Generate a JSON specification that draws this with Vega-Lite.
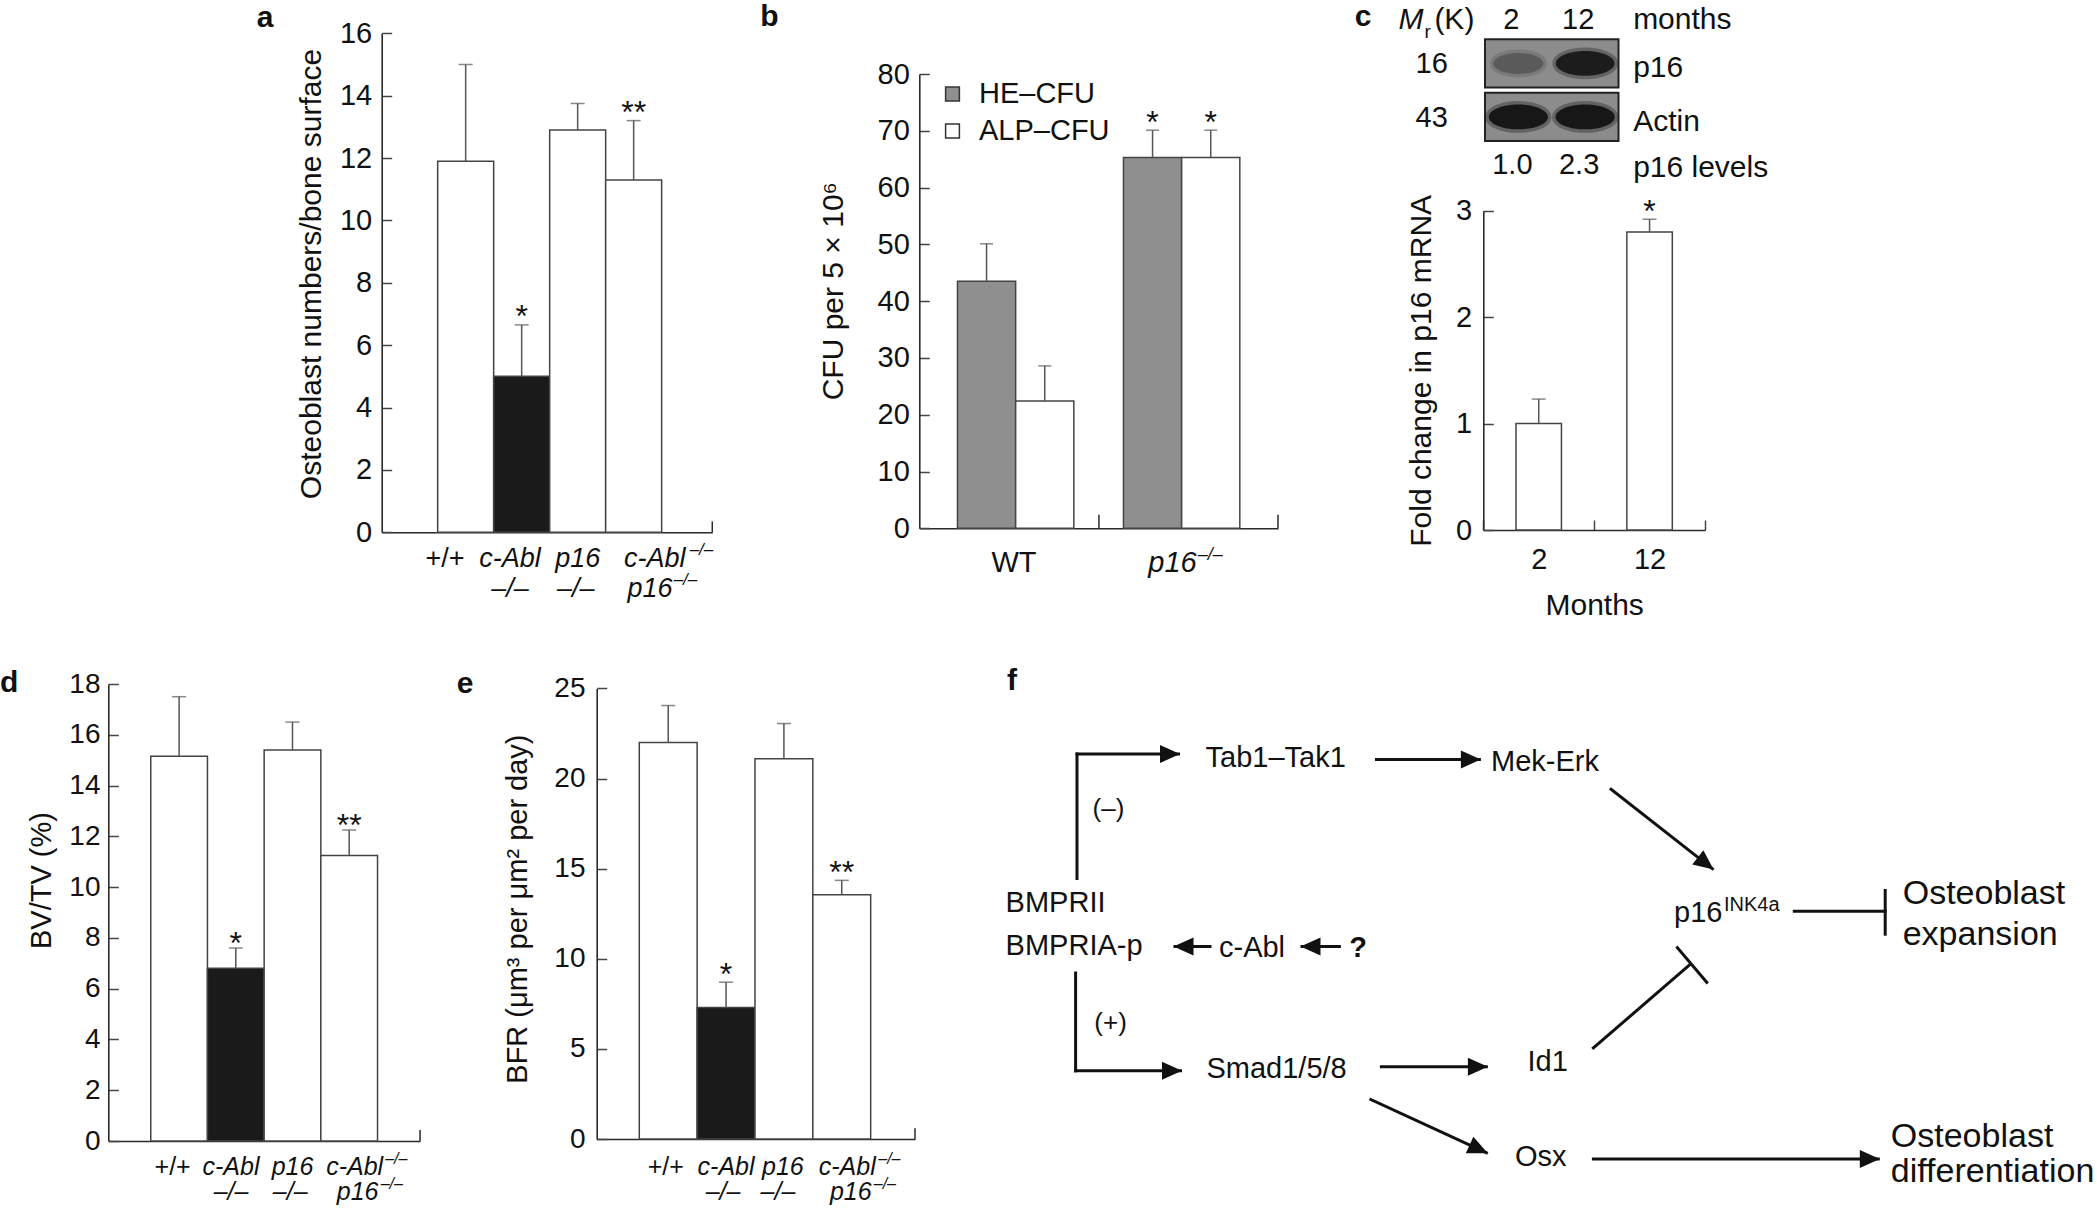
{
"$schema": "https://vega.github.io/schema/vega-lite/v6.json",
"width": 2097,
"height": 1211,
"autosize": {"type": "none"},
"padding": 0,
"background": "#ffffff",
"config": {
  "view": {"stroke": null},
  "font": "Liberation Sans",
  "axis": {"domainColor": "#2a2a2a", "domainWidth": 1.6, "tickColor": "#444444", "tickWidth": 1.5, "labelFont": "Liberation Sans", "labelColor": "#111111", "labelFontSize": 29, "titleFont": "Liberation Sans", "titleFontSize": 30, "titleFontWeight": "normal", "titleColor": "#111111", "grid": false, "labelFlush": false, "labelOverlap": false},
  "text": {"font": "Liberation Sans", "color": "#111111"}
},
"datasets": {
  "a": [{"g":"wt","v":11.9,"e":15.0,"s":""},{"g":"abl","v":5.0,"e":6.65,"s":"*"},{"g":"p16","v":12.9,"e":13.75,"s":""},{"g":"dko","v":11.3,"e":13.2,"s":"**"}],
  "b": [{"grp":"WT","ser":"HE–CFU","v":43.5,"e":50.1,"s":""},{"grp":"WT","ser":"ALP–CFU","v":22.4,"e":28.6,"s":""},{"grp":"p16","ser":"HE–CFU","v":65.3,"e":70.1,"s":"*"},{"grp":"p16","ser":"ALP–CFU","v":65.3,"e":70.1,"s":"*"}],
  "c": [{"m":"2","v":1.0,"e":1.23,"s":""},{"m":"12","v":2.8,"e":2.92,"s":"*"}],
  "blot": [{"row":"p16","lane":"2","level":1.0,"mr":"16"},{"row":"p16","lane":"12","level":2.3,"mr":"16"},{"row":"Actin","lane":"2","level":2.4,"mr":"43"},{"row":"Actin","lane":"12","level":2.4,"mr":"43"}],
  "d": [{"g":"wt","v":15.15,"e":17.5,"s":""},{"g":"abl","v":6.8,"e":7.6,"s":"*"},{"g":"p16","v":15.4,"e":16.5,"s":""},{"g":"dko","v":11.25,"e":12.25,"s":"**"}],
  "e": [{"g":"wt","v":22.0,"e":24.05,"s":""},{"g":"abl","v":7.3,"e":8.7,"s":"*"},{"g":"p16","v":21.1,"e":23.05,"s":""},{"g":"dko","v":13.55,"e":14.35,"s":"**"}],
  "segs": [
    {"x1":7.7,"y1":23.85,"x2":7.7,"y2":11.4,"h":"none"},
    {"x1":7.7,"y1":11.4,"x2":17.85,"y2":11.4,"h":"arrow"},
    {"x1":37.65,"y1":11.94,"x2":47.94,"y2":11.94,"h":"arrow"},
    {"x1":61.1,"y1":14.93,"x2":71.24,"y2":22.87,"h":"arrow"},
    {"x1":21.0,"y1":30.66,"x2":17.5,"y2":30.66,"h":"arrow"},
    {"x1":33.94,"y1":30.66,"x2":30.2,"y2":30.66,"h":"arrow"},
    {"x1":7.56,"y1":33.3,"x2":7.56,"y2":43.08,"h":"none"},
    {"x1":7.56,"y1":43.08,"x2":18.05,"y2":43.08,"h":"arrow"},
    {"x1":38.14,"y1":42.68,"x2":48.64,"y2":42.68,"h":"arrow"},
    {"x1":37.09,"y1":45.96,"x2":48.64,"y2":51.27,"h":"arrow"},
    {"x1":59.34,"y1":51.9,"x2":87.83,"y2":51.9,"h":"arrow"},
    {"x1":59.34,"y1":40.79,"x2":68.93,"y2":32.52,"h":"none"},
    {"x1":67.74,"y1":30.77,"x2":70.68,"y2":34.23,"h":"none"},
    {"x1":79.43,"y1":27.13,"x2":88.52,"y2":27.13,"h":"none"},
    {"x1":88.52,"y1":25.05,"x2":88.52,"y2":29.42,"h":"none"}
  ],
  "nodes": [
    {"t":"Tab1–Tak1","x":27.57,"y":11.84,"k":"n"},
    {"t":"Mek-Erk","x":54.5,"y":12.2,"k":"n"},
    {"t":"c-Abl","x":25.2,"y":30.8,"k":"n"},
    {"t":"Smad1/5/8","x":27.66,"y":42.9,"k":"n"},
    {"t":"Id1","x":54.76,"y":42.24,"k":"n"},
    {"t":"Osx","x":54.07,"y":51.7,"k":"n"},
    {"t":"BMPRII","x":0.56,"y":26.3,"k":"nl"},
    {"t":"BMPRIA-p","x":0.56,"y":30.6,"k":"nl"},
    {"t":"p16","x":67.4,"y":27.3,"k":"nl"},
    {"t":"INK4a","x":72.4,"y":26.5,"k":"sup"},
    {"t":"Osteoblast","x":90.27,"y":25.38,"k":"big"},
    {"t":"expansion","x":90.27,"y":29.5,"k":"big"},
    {"t":"Osteoblast","x":89.08,"y":49.7,"k":"big"},
    {"t":"differentiation","x":89.08,"y":53.24,"k":"big"},
    {"t":"(–)","x":10.85,"y":16.93,"k":"sign"},
    {"t":"(+)","x":11.06,"y":38.3,"k":"sign"},
    {"t":"?","x":35.8,"y":30.8,"k":"q"},
    {"t":"f","x":1.2,"y":4.1,"k":"label"}
  ]
},
"resolve": {"scale": {"x": "independent", "y": "independent"}, "axis": {"x": "independent", "y": "independent"}},
"layer": [
{
  "data": {"name": "a"},
  "layer": [
    {"mark": {"type": "bar", "stroke": "#444444", "strokeWidth": 1.5},
     "encoding": {
       "x": {"field": "g", "type": "nominal", "scale": {"domain": ["wt","abl","p16","dko"], "range": [381.7, 712.3], "paddingInner": 0, "paddingOuter": 0.952, "align": 0.525}, "axis": {"orient": "bottom", "offset": -678.7, "labels": false, "ticks": false, "title": null}},
       "y": {"field": "v", "type": "quantitative", "scale": {"domain": [0, 16], "range": [532.3, 33.3], "nice": false, "zero": false}, "axis": {"orient": "left", "offset": -381.7, "values": [0,2,4,6,8,10,12,14,16], "format": "d", "tickSize": -10, "labelPadding": 20, "title": "Osteoblast numbers/bone surface", "titlePadding": 13, "titleY": 273.5}},
       "fill": {"condition": {"test": "datum.g === 'abl'", "value": "#1a1a1a"}, "value": "#ffffff"}
     }},
    {"mark": {"type": "rule", "color": "#555555", "strokeWidth": 1.5},
     "encoding": {"x": {"field": "g", "type": "nominal"}, "y": {"field": "v", "type": "quantitative"}, "y2": {"field": "e"}}},
    {"mark": {"type": "tick", "color": "#555555", "size": 14, "thickness": 1.5},
     "encoding": {"x": {"field": "g", "type": "nominal"}, "y": {"field": "e", "type": "quantitative"}}},
    {"transform": [{"filter": "datum.s !== ''"}],
     "mark": {"type": "text", "fontSize": 32, "baseline": "alphabetic", "dy": 2.5},
     "encoding": {"x": {"field": "g", "type": "nominal"}, "y": {"field": "e", "type": "quantitative"}, "text": {"field": "s"}}},
    {"transform": [{"filter": "datum.g === 'dko'"}],
     "mark": {"type": "rule", "color": "#2a2a2a", "strokeWidth": 1.5},
     "encoding": {"x": {"field": "g", "type": "nominal", "bandPosition": 1.904}, "y": {"datum": 0}, "y2": {"datum": 0.35}}},
    {"transform": [{"filter": "datum.g === 'wt'"}],
     "mark": {"type": "text", "fontSize": 27, "baseline": "alphabetic", "dx": -20.7, "dy": 34.7},
     "encoding": {"x": {"field": "g", "type": "nominal"}, "y": {"datum": 0}, "text": {"value": "+/+"}}},
    {"transform": [{"filter": "datum.g === 'abl'"}],
     "mark": {"type": "text", "fontSize": 27, "fontStyle": "italic", "baseline": "alphabetic", "dx": -11.7, "dy": 34.7},
     "encoding": {"x": {"field": "g", "type": "nominal"}, "y": {"datum": 0}, "text": {"value": "c-Abl"}}},
    {"transform": [{"filter": "datum.g === 'abl'"}],
     "mark": {"type": "text", "fontSize": 27, "fontStyle": "italic", "baseline": "alphabetic", "dx": -11.7, "dy": 64.7},
     "encoding": {"x": {"field": "g", "type": "nominal"}, "y": {"datum": 0}, "text": {"value": "–/–"}}},
    {"transform": [{"filter": "datum.g === 'p16'"}],
     "mark": {"type": "text", "fontSize": 27, "fontStyle": "italic", "baseline": "alphabetic", "dx": 0, "dy": 34.7},
     "encoding": {"x": {"field": "g", "type": "nominal"}, "y": {"datum": 0}, "text": {"value": "p16"}}},
    {"transform": [{"filter": "datum.g === 'p16'"}],
     "mark": {"type": "text", "fontSize": 27, "fontStyle": "italic", "baseline": "alphabetic", "dx": -2, "dy": 64.7},
     "encoding": {"x": {"field": "g", "type": "nominal"}, "y": {"datum": 0}, "text": {"value": "–/–"}}},
    {"transform": [{"filter": "datum.g === 'dko'"}],
     "mark": {"type": "text", "fontSize": 27, "fontStyle": "italic", "baseline": "alphabetic", "dx": 21, "dy": 34.7},
     "encoding": {"x": {"field": "g", "type": "nominal"}, "y": {"datum": 0}, "text": {"value": "c-Abl"}}},
    {"transform": [{"filter": "datum.g === 'dko'"}],
     "mark": {"type": "text", "fontSize": 17, "fontStyle": "italic", "align": "left", "baseline": "alphabetic", "dx": 56, "dy": 22.7},
     "encoding": {"x": {"field": "g", "type": "nominal"}, "y": {"datum": 0}, "text": {"value": "–/–"}}},
    {"transform": [{"filter": "datum.g === 'dko'"}],
     "mark": {"type": "text", "fontSize": 27, "fontStyle": "italic", "baseline": "alphabetic", "dx": 16.3, "dy": 64.7},
     "encoding": {"x": {"field": "g", "type": "nominal"}, "y": {"datum": 0}, "text": {"value": "p16"}}},
    {"transform": [{"filter": "datum.g === 'dko'"}],
     "mark": {"type": "text", "fontSize": 17, "fontStyle": "italic", "align": "left", "baseline": "alphabetic", "dx": 40, "dy": 52.7},
     "encoding": {"x": {"field": "g", "type": "nominal"}, "y": {"datum": 0}, "text": {"value": "–/–"}}},
    {"transform": [{"filter": "datum.g === 'wt'"}],
     "mark": {"type": "text", "fontSize": 30, "fontWeight": "bold", "baseline": "middle", "dx": -200.7, "dy": -15.3},
     "encoding": {"x": {"field": "g", "type": "nominal"}, "y": {"datum": 16}, "text": {"value": "a"}}}
  ]
},
{
  "data": {"name": "b"},
  "layer": [
    {"mark": {"type": "bar", "stroke": "#444444", "strokeWidth": 1.5},
     "encoding": {
       "x": {"field": "grp", "type": "nominal", "scale": {"domain": ["WT","p16"], "range": [919.3, 1278], "paddingInner": 0.299, "paddingOuter": 0.23, "align": 0.5}, "axis": {"orient": "bottom", "offset": -682.7, "labels": false, "ticks": false, "title": null}},
       "xOffset": {"field": "ser", "type": "nominal", "scale": {"domain": ["HE–CFU","ALP–CFU"], "paddingInner": 0, "paddingOuter": 0}},
       "y": {"field": "v", "type": "quantitative", "scale": {"domain": [0, 80], "range": [528.3, 74], "nice": false, "zero": false}, "axis": {"orient": "left", "offset": -919.3, "values": [0,10,20,30,40,50,60,70,80], "format": "d", "tickSize": -10, "labelPadding": 20, "title": "CFU per 5 × 10⁶", "titlePadding": 29, "titleY": 290.7}},
       "fill": {"field": "ser", "type": "nominal", "scale": {"domain": ["HE–CFU","ALP–CFU"], "range": ["#8f8f8f","#ffffff"]}, "legend": {"orient": "none", "legendX": 938, "legendY": 79.5, "title": null, "symbolType": "square", "symbolSize": 190, "symbolStrokeColor": "#333333", "symbolStrokeWidth": 1.5, "labelFontSize": 29, "labelFont": "Liberation Sans", "labelColor": "#111111", "rowPadding": 7, "labelOffset": 12, "padding": 0, "offset": 0}}
     }},
    {"mark": {"type": "rule", "color": "#555555", "strokeWidth": 1.5},
     "encoding": {"x": {"field": "grp", "type": "nominal"}, "xOffset": {"field": "ser", "type": "nominal"}, "y": {"field": "v", "type": "quantitative"}, "y2": {"field": "e"}}},
    {"mark": {"type": "tick", "color": "#555555", "size": 13, "thickness": 1.5},
     "encoding": {"x": {"field": "grp", "type": "nominal"}, "xOffset": {"field": "ser", "type": "nominal"}, "y": {"field": "e", "type": "quantitative"}}},
    {"transform": [{"filter": "datum.s !== ''"}],
     "mark": {"type": "text", "fontSize": 32, "baseline": "alphabetic", "dy": 2.5},
     "encoding": {"x": {"field": "grp", "type": "nominal"}, "xOffset": {"field": "ser", "type": "nominal"}, "y": {"field": "e", "type": "quantitative"}, "text": {"field": "s"}}},
    {"transform": [{"filter": "datum.grp === 'WT' && datum.ser === 'HE–CFU'"}],
     "mark": {"type": "rule", "color": "#2a2a2a", "strokeWidth": 1.5},
     "encoding": {"x": {"field": "grp", "type": "nominal", "bandPosition": 1.216}, "y": {"datum": 0}, "y2": {"datum": 2.4}}},
    {"transform": [{"filter": "datum.grp === 'p16' && datum.ser === 'HE–CFU'"}],
     "mark": {"type": "rule", "color": "#2a2a2a", "strokeWidth": 1.5},
     "encoding": {"x": {"field": "grp", "type": "nominal", "bandPosition": 1.328}, "y": {"datum": 0}, "y2": {"datum": 2.4}}},
    {"transform": [{"filter": "datum.grp === 'WT' && datum.ser === 'HE–CFU'"}],
     "mark": {"type": "text", "fontSize": 29, "baseline": "alphabetic", "dx": -1.7, "dy": 43.7},
     "encoding": {"x": {"field": "grp", "type": "nominal"}, "y": {"datum": 0}, "text": {"value": "WT"}}},
    {"transform": [{"filter": "datum.grp === 'p16' && datum.ser === 'HE–CFU'"}],
     "mark": {"type": "text", "fontSize": 29, "fontStyle": "italic", "baseline": "alphabetic", "dx": -9.2, "dy": 43.7},
     "encoding": {"x": {"field": "grp", "type": "nominal"}, "y": {"datum": 0}, "text": {"value": "p16"}}},
    {"transform": [{"filter": "datum.grp === 'p16' && datum.ser === 'HE–CFU'"}],
     "mark": {"type": "text", "fontSize": 18, "fontStyle": "italic", "align": "left", "baseline": "alphabetic", "dx": 16, "dy": 31.7},
     "encoding": {"x": {"field": "grp", "type": "nominal"}, "y": {"datum": 0}, "text": {"value": "–/–"}}},
    {"transform": [{"filter": "datum.grp === 'WT' && datum.ser === 'HE–CFU'"}],
     "mark": {"type": "text", "fontSize": 30, "fontWeight": "bold", "baseline": "middle", "dx": -246.2, "dy": -57},
     "encoding": {"x": {"field": "grp", "type": "nominal"}, "y": {"datum": 80}, "text": {"value": "b"}}}
  ]
},
{"data": {"name": "c"},
 "mark": {"type": "bar", "stroke": "#444444", "strokeWidth": 1.5, "fill": "#ffffff", "width": {"band": 0.41}},
 "encoding": {
   "x": {"field": "m", "type": "nominal", "scale": {"domain": ["2","12"], "range": [1483.3, 1705], "paddingInner": 0, "paddingOuter": 0}, "axis": {"orient": "bottom", "offset": -681, "tickBand": "extent", "tickSize": -10, "labelPadding": 25, "labelAngle": 0, "title": "Months", "titlePadding": 16}},
   "y": {"field": "v", "type": "quantitative", "scale": {"domain": [0, 3], "range": [530, 210.7], "nice": false, "zero": false}, "axis": {"orient": "left", "offset": -1483.3, "values": [0,0.5,1,1.5,2,2.5,3], "format": "d", "tickSize": -10, "labelPadding": 21.6, "labelExpr": "datum.value % 1 === 0 ? datum.label : ''", "title": "Fold change in p16 mRNA", "titlePadding": 19}}
 }},
{"data": {"name": "c"},
 "mark": {"type": "rule", "color": "#555555", "strokeWidth": 1.5},
 "encoding": {
   "x": {"field": "m", "type": "nominal", "scale": {"domain": ["2","12"], "range": [1483.3, 1705], "paddingInner": 0, "paddingOuter": 0}, "axis": null},
   "y": {"field": "v", "type": "quantitative", "scale": {"domain": [0, 3], "range": [530, 210.7], "nice": false, "zero": false}, "axis": null},
   "y2": {"field": "e"}
 }},
{"data": {"name": "c"},
 "mark": {"type": "tick", "color": "#555555", "size": 14, "thickness": 1.5},
 "encoding": {
   "x": {"field": "m", "type": "nominal", "scale": {"domain": ["2","12"], "range": [1483.3, 1705], "paddingInner": 0, "paddingOuter": 0}, "axis": null},
   "y": {"field": "e", "type": "quantitative", "scale": {"domain": [0, 3], "range": [530, 210.7], "nice": false, "zero": false}, "axis": null}
 }},
{"data": {"name": "c"},
 "transform": [{"filter": "datum.s !== ''"}],
 "mark": {"type": "text", "fontSize": 32, "baseline": "alphabetic", "dy": 2.5},
 "encoding": {
   "x": {"field": "m", "type": "nominal", "scale": {"domain": ["2","12"], "range": [1483.3, 1705], "paddingInner": 0, "paddingOuter": 0}, "axis": null},
   "y": {"field": "e", "type": "quantitative", "scale": {"domain": [0, 3], "range": [530, 210.7], "nice": false, "zero": false}, "axis": null},
   "text": {"field": "s"}
 }},
{
  "data": {"name": "blot"},
  "layer": [
    {"transform": [{"filter": "datum.lane === '2'"}],
     "mark": {"type": "rect", "fill": "#8c8c8c", "stroke": "#222222", "strokeWidth": 2},
     "encoding": {
       "x": {"datum": "2", "bandPosition": 0, "type": "nominal", "scale": {"domain": ["2","12"], "range": [1485, 1618.5], "paddingInner": 0, "paddingOuter": 0}, "axis": null},
       "x2": {"datum": "12", "bandPosition": 1},
       "y": {"field": "row", "type": "nominal", "scale": {"domain": ["p16","Actin"], "range": [39.3, 141], "paddingInner": 0.1, "paddingOuter": 0}, "axis": null}
     }},
    {"mark": {"type": "point", "shape": "M-1,0A1,0.42,0,1,1,1,0A1,0.42,0,1,1,-1,0Z", "filled": true, "fill": "#111111", "stroke": "#111111", "strokeWidth": 7, "strokeOpacity": 0.35},
     "encoding": {
       "x": {"field": "lane", "type": "nominal", "axis": null},
       "y": {"field": "row", "type": "nominal", "axis": null},
       "size": {"field": "level", "type": "quantitative", "scale": {"domain": [1, 2.4], "range": [2500, 3500]}, "legend": null},
       "opacity": {"field": "level", "type": "quantitative", "scale": {"domain": [0, 2.4], "range": [0, 0.95]}, "legend": null}
     }},
    {"transform": [{"filter": "datum.row === 'p16'"}],
     "mark": {"type": "text", "fontSize": 29, "baseline": "middle", "dx": -7, "dy": -43.4},
     "encoding": {"x": {"field": "lane", "type": "nominal", "axis": null}, "y": {"field": "row", "type": "nominal", "axis": null}, "text": {"field": "lane"}}},
    {"transform": [{"filter": "datum.row === 'p16'"}],
     "mark": {"type": "text", "fontSize": 29, "baseline": "middle", "dx": -6, "dy": 101.6},
     "encoding": {"x": {"field": "lane", "type": "nominal", "axis": null}, "y": {"field": "row", "type": "nominal", "axis": null}, "text": {"field": "level", "type": "quantitative", "format": ".1f"}}},
    {"transform": [{"filter": "datum.lane === '2'"}],
     "mark": {"type": "text", "fontSize": 29, "baseline": "middle", "dx": -86.7, "dy": 1},
     "encoding": {"x": {"field": "lane", "type": "nominal", "axis": null}, "y": {"field": "row", "type": "nominal", "axis": null}, "text": {"field": "mr"}}},
    {"transform": [{"filter": "datum.lane === '12'"}],
     "mark": {"type": "text", "fontSize": 30, "align": "left", "baseline": "middle", "dx": 48, "dy": 5},
     "encoding": {"x": {"field": "lane", "type": "nominal", "axis": null}, "y": {"field": "row", "type": "nominal", "axis": null}, "text": {"field": "row"}}},
    {"transform": [{"filter": "datum.lane === '12' && datum.row === 'p16'"}],
     "mark": {"type": "text", "fontSize": 30, "align": "left", "baseline": "middle", "dx": 48, "dy": -43.4},
     "encoding": {"x": {"field": "lane", "type": "nominal", "axis": null}, "y": {"field": "row", "type": "nominal", "axis": null}, "text": {"value": "months"}}},
    {"transform": [{"filter": "datum.lane === '12' && datum.row === 'p16'"}],
     "mark": {"type": "text", "fontSize": 30, "align": "left", "baseline": "middle", "dx": 48, "dy": 104.6},
     "encoding": {"x": {"field": "lane", "type": "nominal", "axis": null}, "y": {"field": "row", "type": "nominal", "axis": null}, "text": {"value": "p16 levels"}}},
    {"transform": [{"filter": "datum.lane === '2' && datum.row === 'p16'"}],
     "mark": {"type": "text", "fontSize": 30, "fontStyle": "italic", "align": "left", "baseline": "middle", "dx": -120, "dy": -43.4},
     "encoding": {"x": {"field": "lane", "type": "nominal", "axis": null}, "y": {"field": "row", "type": "nominal", "axis": null}, "text": {"value": "M"}}},
    {"transform": [{"filter": "datum.lane === '2' && datum.row === 'p16'"}],
     "mark": {"type": "text", "fontSize": 19, "align": "left", "baseline": "middle", "dx": -94, "dy": -31},
     "encoding": {"x": {"field": "lane", "type": "nominal", "axis": null}, "y": {"field": "row", "type": "nominal", "axis": null}, "text": {"value": "r"}}},
    {"transform": [{"filter": "datum.lane === '2' && datum.row === 'p16'"}],
     "mark": {"type": "text", "fontSize": 30, "align": "left", "baseline": "middle", "dx": -84, "dy": -43.4},
     "encoding": {"x": {"field": "lane", "type": "nominal", "axis": null}, "y": {"field": "row", "type": "nominal", "axis": null}, "text": {"value": "(K)"}}},
    {"transform": [{"filter": "datum.lane === '2' && datum.row === 'p16'"}],
     "mark": {"type": "text", "fontSize": 30, "fontWeight": "bold", "baseline": "middle", "dx": -155.4, "dy": -45.9},
     "encoding": {"x": {"field": "lane", "type": "nominal", "axis": null}, "y": {"field": "row", "type": "nominal", "axis": null}, "text": {"value": "c"}}}
  ]
},
{
  "data": {"name": "d"},
  "layer": [
    {"mark": {"type": "bar", "stroke": "#444444", "strokeWidth": 1.5},
     "encoding": {
       "x": {"field": "g", "type": "nominal", "scale": {"domain": ["wt","abl","p16","dko"], "range": [108.3, 420], "paddingInner": 0, "paddingOuter": 0.749, "align": 0.5}, "axis": {"orient": "bottom", "offset": -70, "labels": false, "ticks": false, "title": null}},
       "y": {"field": "v", "type": "quantitative", "scale": {"domain": [0, 18], "range": [1141, 684], "nice": false, "zero": false}, "axis": {"orient": "left", "offset": -108.3, "values": [0,2,4,6,8,10,12,14,16,18], "format": "d", "tickSize": -10, "labelPadding": 18.3, "labelFontSize": 28, "titleFontSize": 29, "title": "BV/TV (%)", "titlePadding": 12.8, "titleY": 880}},
       "fill": {"condition": {"test": "datum.g === 'abl'", "value": "#1a1a1a"}, "value": "#ffffff"}
     }},
    {"mark": {"type": "rule", "color": "#555555", "strokeWidth": 1.5},
     "encoding": {"x": {"field": "g", "type": "nominal"}, "y": {"field": "v", "type": "quantitative"}, "y2": {"field": "e"}}},
    {"mark": {"type": "tick", "color": "#555555", "size": 14, "thickness": 1.5},
     "encoding": {"x": {"field": "g", "type": "nominal"}, "y": {"field": "e", "type": "quantitative"}}},
    {"transform": [{"filter": "datum.s !== ''"}],
     "mark": {"type": "text", "fontSize": 32, "baseline": "alphabetic", "dy": 6},
     "encoding": {"x": {"field": "g", "type": "nominal"}, "y": {"field": "e", "type": "quantitative"}, "text": {"field": "s"}}},
    {"transform": [{"filter": "datum.g === 'dko'"}],
     "mark": {"type": "rule", "color": "#2a2a2a", "strokeWidth": 1.5},
     "encoding": {"x": {"field": "g", "type": "nominal", "bandPosition": 1.75}, "y": {"datum": 0}, "y2": {"datum": 0.43}}},
    {"transform": [{"filter": "datum.g === 'wt'"}],
     "mark": {"type": "text", "fontSize": 25, "baseline": "alphabetic", "dx": -6.5, "dy": 33.6},
     "encoding": {"x": {"field": "g", "type": "nominal"}, "y": {"datum": 0}, "text": {"value": "+/+"}}},
    {"transform": [{"filter": "datum.g === 'abl'"}],
     "mark": {"type": "text", "fontSize": 25, "fontStyle": "italic", "baseline": "alphabetic", "dx": -4.8, "dy": 33.6},
     "encoding": {"x": {"field": "g", "type": "nominal"}, "y": {"datum": 0}, "text": {"value": "c-Abl"}}},
    {"transform": [{"filter": "datum.g === 'abl'"}],
     "mark": {"type": "text", "fontSize": 25, "fontStyle": "italic", "baseline": "alphabetic", "dx": -4.8, "dy": 58.6},
     "encoding": {"x": {"field": "g", "type": "nominal"}, "y": {"datum": 0}, "text": {"value": "–/–"}}},
    {"transform": [{"filter": "datum.g === 'p16'"}],
     "mark": {"type": "text", "fontSize": 25, "fontStyle": "italic", "baseline": "alphabetic", "dx": 0, "dy": 33.6},
     "encoding": {"x": {"field": "g", "type": "nominal"}, "y": {"datum": 0}, "text": {"value": "p16"}}},
    {"transform": [{"filter": "datum.g === 'p16'"}],
     "mark": {"type": "text", "fontSize": 25, "fontStyle": "italic", "baseline": "alphabetic", "dx": -2.3, "dy": 58.6},
     "encoding": {"x": {"field": "g", "type": "nominal"}, "y": {"datum": 0}, "text": {"value": "–/–"}}},
    {"transform": [{"filter": "datum.g === 'dko'"}],
     "mark": {"type": "text", "fontSize": 25, "fontStyle": "italic", "baseline": "alphabetic", "dx": 5.5, "dy": 33.6},
     "encoding": {"x": {"field": "g", "type": "nominal"}, "y": {"datum": 0}, "text": {"value": "c-Abl"}}},
    {"transform": [{"filter": "datum.g === 'dko'"}],
     "mark": {"type": "text", "fontSize": 16, "fontStyle": "italic", "align": "left", "baseline": "alphabetic", "dx": 36, "dy": 22.6},
     "encoding": {"x": {"field": "g", "type": "nominal"}, "y": {"datum": 0}, "text": {"value": "–/–"}}},
    {"transform": [{"filter": "datum.g === 'dko'"}],
     "mark": {"type": "text", "fontSize": 25, "fontStyle": "italic", "baseline": "alphabetic", "dx": 8.4, "dy": 58.6},
     "encoding": {"x": {"field": "g", "type": "nominal"}, "y": {"datum": 0}, "text": {"value": "p16"}}},
    {"transform": [{"filter": "datum.g === 'dko'"}],
     "mark": {"type": "text", "fontSize": 16, "fontStyle": "italic", "align": "left", "baseline": "alphabetic", "dx": 31.5, "dy": 47.6},
     "encoding": {"x": {"field": "g", "type": "nominal"}, "y": {"datum": 0}, "text": {"value": "–/–"}}},
    {"transform": [{"filter": "datum.g === 'wt'"}],
     "mark": {"type": "text", "fontSize": 30, "fontWeight": "bold", "baseline": "middle", "dx": -169.9, "dy": -0.7},
     "encoding": {"x": {"field": "g", "type": "nominal"}, "y": {"datum": 18}, "text": {"value": "d"}}}
  ]
},
{
  "data": {"name": "e"},
  "layer": [
    {"mark": {"type": "bar", "stroke": "#444444", "strokeWidth": 1.5},
     "encoding": {
       "x": {"field": "g", "type": "nominal", "scale": {"domain": ["wt","abl","p16","dko"], "range": [596.7, 915], "paddingInner": 0, "paddingOuter": 0.751, "align": 0.49}, "axis": {"orient": "bottom", "offset": -72, "labels": false, "ticks": false, "title": null}},
       "y": {"field": "v", "type": "quantitative", "scale": {"domain": [0, 25], "range": [1139, 688.4], "nice": false, "zero": false}, "axis": {"orient": "left", "offset": -596.7, "values": [0,5,10,15,20,25], "format": "d", "tickSize": -10, "labelPadding": 21.7, "labelFontSize": 28, "titleFontSize": 29, "title": "BFR (μm³ per μm² per day)", "titlePadding": 21, "titleY": 908.6}},
       "fill": {"condition": {"test": "datum.g === 'abl'", "value": "#1a1a1a"}, "value": "#ffffff"}
     }},
    {"mark": {"type": "rule", "color": "#555555", "strokeWidth": 1.5},
     "encoding": {"x": {"field": "g", "type": "nominal"}, "y": {"field": "v", "type": "quantitative"}, "y2": {"field": "e"}}},
    {"mark": {"type": "tick", "color": "#555555", "size": 14, "thickness": 1.5},
     "encoding": {"x": {"field": "g", "type": "nominal"}, "y": {"field": "e", "type": "quantitative"}}},
    {"transform": [{"filter": "datum.s !== ''"}],
     "mark": {"type": "text", "fontSize": 32, "baseline": "alphabetic", "dy": 2.5},
     "encoding": {"x": {"field": "g", "type": "nominal"}, "y": {"field": "e", "type": "quantitative"}, "text": {"field": "s"}}},
    {"transform": [{"filter": "datum.g === 'dko'"}],
     "mark": {"type": "rule", "color": "#2a2a2a", "strokeWidth": 1.5},
     "encoding": {"x": {"field": "g", "type": "nominal", "bandPosition": 1.766}, "y": {"datum": 0}, "y2": {"datum": 0.6}}},
    {"transform": [{"filter": "datum.g === 'wt'"}],
     "mark": {"type": "text", "fontSize": 25, "baseline": "alphabetic", "dx": -2.5, "dy": 35.6},
     "encoding": {"x": {"field": "g", "type": "nominal"}, "y": {"datum": 0}, "text": {"value": "+/+"}}},
    {"transform": [{"filter": "datum.g === 'abl'"}],
     "mark": {"type": "text", "fontSize": 25, "fontStyle": "italic", "baseline": "alphabetic", "dx": 0, "dy": 35.6},
     "encoding": {"x": {"field": "g", "type": "nominal"}, "y": {"datum": 0}, "text": {"value": "c-Abl"}}},
    {"transform": [{"filter": "datum.g === 'abl'"}],
     "mark": {"type": "text", "fontSize": 25, "fontStyle": "italic", "baseline": "alphabetic", "dx": -3, "dy": 60.6},
     "encoding": {"x": {"field": "g", "type": "nominal"}, "y": {"datum": 0}, "text": {"value": "–/–"}}},
    {"transform": [{"filter": "datum.g === 'p16'"}],
     "mark": {"type": "text", "fontSize": 25, "fontStyle": "italic", "baseline": "alphabetic", "dx": -1, "dy": 35.6},
     "encoding": {"x": {"field": "g", "type": "nominal"}, "y": {"datum": 0}, "text": {"value": "p16"}}},
    {"transform": [{"filter": "datum.g === 'p16'"}],
     "mark": {"type": "text", "fontSize": 25, "fontStyle": "italic", "baseline": "alphabetic", "dx": -6, "dy": 60.6},
     "encoding": {"x": {"field": "g", "type": "nominal"}, "y": {"datum": 0}, "text": {"value": "–/–"}}},
    {"transform": [{"filter": "datum.g === 'dko'"}],
     "mark": {"type": "text", "fontSize": 25, "fontStyle": "italic", "baseline": "alphabetic", "dx": 5.5, "dy": 35.6},
     "encoding": {"x": {"field": "g", "type": "nominal"}, "y": {"datum": 0}, "text": {"value": "c-Abl"}}},
    {"transform": [{"filter": "datum.g === 'dko'"}],
     "mark": {"type": "text", "fontSize": 16, "fontStyle": "italic", "align": "left", "baseline": "alphabetic", "dx": 36.5, "dy": 24.6},
     "encoding": {"x": {"field": "g", "type": "nominal"}, "y": {"datum": 0}, "text": {"value": "–/–"}}},
    {"transform": [{"filter": "datum.g === 'dko'"}],
     "mark": {"type": "text", "fontSize": 25, "fontStyle": "italic", "baseline": "alphabetic", "dx": 9, "dy": 60.6},
     "encoding": {"x": {"field": "g", "type": "nominal"}, "y": {"datum": 0}, "text": {"value": "p16"}}},
    {"transform": [{"filter": "datum.g === 'dko'"}],
     "mark": {"type": "text", "fontSize": 16, "fontStyle": "italic", "align": "left", "baseline": "alphabetic", "dx": 32, "dy": 49.6},
     "encoding": {"x": {"field": "g", "type": "nominal"}, "y": {"datum": 0}, "text": {"value": "–/–"}}},
    {"transform": [{"filter": "datum.g === 'wt'"}],
     "mark": {"type": "text", "fontSize": 30, "fontWeight": "bold", "baseline": "middle", "dx": -203.2, "dy": -4.4},
     "encoding": {"x": {"field": "g", "type": "nominal"}, "y": {"datum": 25}, "text": {"value": "e"}}}
  ]
},
{
  "layer": [
    {"data": {"name": "segs"},
     "mark": {"type": "rule", "color": "#111111", "strokeWidth": 3, "strokeCap": "square"},
     "encoding": {
       "x": {"field": "x1", "type": "quantitative", "scale": {"domain": [0, 110], "range": [1000, 2100], "zero": false, "nice": false}, "axis": null},
       "y": {"field": "y1", "type": "quantitative", "scale": {"domain": [0, 56], "range": [640, 1200], "zero": false, "nice": false}, "axis": null},
       "x2": {"field": "x2"},
       "y2": {"field": "y2"}
     }},
    {"data": {"name": "segs"},
     "transform": [{"filter": "datum.h === 'arrow'"}, {"calculate": "atan2(datum.y2 - datum.y1, datum.x2 - datum.x1) * 180 / PI", "as": "ang"}],
     "mark": {"type": "point", "shape": "M0.15,0L-1.85,-0.9L-1.85,0.9Z", "filled": true, "fill": "#111111", "strokeWidth": 0, "size": 400, "opacity": 1},
     "encoding": {
       "x": {"field": "x2", "type": "quantitative", "axis": null},
       "y": {"field": "y2", "type": "quantitative", "axis": null},
       "angle": {"field": "ang", "type": "quantitative", "scale": null}
     }},
    {"data": {"name": "nodes"}, "transform": [{"filter": "datum.k === 'n'"}],
     "mark": {"type": "text", "fontSize": 29, "align": "center", "baseline": "middle"},
     "encoding": {"x": {"field": "x", "type": "quantitative", "axis": null}, "y": {"field": "y", "type": "quantitative", "axis": null}, "text": {"field": "t"}}},
    {"data": {"name": "nodes"}, "transform": [{"filter": "datum.k === 'nl'"}],
     "mark": {"type": "text", "fontSize": 29, "align": "left", "baseline": "middle"},
     "encoding": {"x": {"field": "x", "type": "quantitative", "axis": null}, "y": {"field": "y", "type": "quantitative", "axis": null}, "text": {"field": "t"}}},
    {"data": {"name": "nodes"}, "transform": [{"filter": "datum.k === 'sup'"}],
     "mark": {"type": "text", "fontSize": 20, "align": "left", "baseline": "middle"},
     "encoding": {"x": {"field": "x", "type": "quantitative", "axis": null}, "y": {"field": "y", "type": "quantitative", "axis": null}, "text": {"field": "t"}}},
    {"data": {"name": "nodes"}, "transform": [{"filter": "datum.k === 'big'"}],
     "mark": {"type": "text", "fontSize": 34, "align": "left", "baseline": "middle"},
     "encoding": {"x": {"field": "x", "type": "quantitative", "axis": null}, "y": {"field": "y", "type": "quantitative", "axis": null}, "text": {"field": "t"}}},
    {"data": {"name": "nodes"}, "transform": [{"filter": "datum.k === 'sign'"}],
     "mark": {"type": "text", "fontSize": 26, "align": "center", "baseline": "middle"},
     "encoding": {"x": {"field": "x", "type": "quantitative", "axis": null}, "y": {"field": "y", "type": "quantitative", "axis": null}, "text": {"field": "t"}}},
    {"data": {"name": "nodes"}, "transform": [{"filter": "datum.k === 'q'"}],
     "mark": {"type": "text", "fontSize": 29, "fontWeight": "bold", "align": "center", "baseline": "middle"},
     "encoding": {"x": {"field": "x", "type": "quantitative", "axis": null}, "y": {"field": "y", "type": "quantitative", "axis": null}, "text": {"field": "t"}}},
    {"data": {"name": "nodes"}, "transform": [{"filter": "datum.k === 'label'"}],
     "mark": {"type": "text", "fontSize": 30, "fontWeight": "bold", "align": "center", "baseline": "middle"},
     "encoding": {"x": {"field": "x", "type": "quantitative", "axis": null}, "y": {"field": "y", "type": "quantitative", "axis": null}, "text": {"field": "t"}}}
  ]
}
]
}
